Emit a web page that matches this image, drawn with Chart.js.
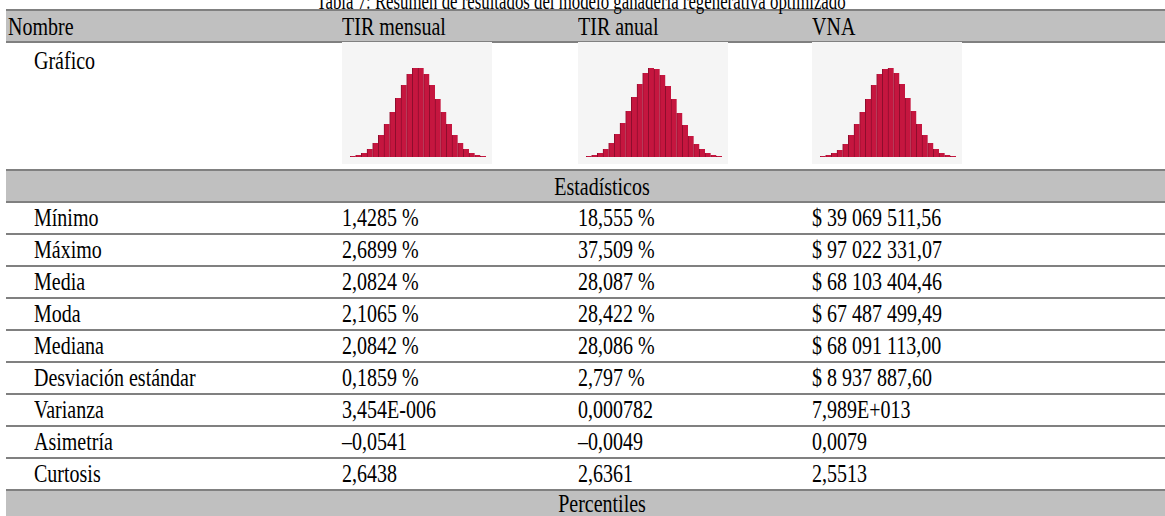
<!DOCTYPE html>
<html><head><meta charset="utf-8">
<script src="https://cdn.jsdelivr.net/npm/chart.js@4.4.0/dist/chart.umd.min.js"></script>
<style>
body{margin:0;width:1165px;height:516px;overflow:hidden;background:#fff;font-family:"Liberation Serif","Times New Roman",serif;font-size:25px;color:#000;position:relative}
.t{position:absolute;white-space:nowrap;line-height:32px;transform:scaleX(0.8);transform-origin:0 0}
.c{transform-origin:50% 0}
.band{position:absolute;left:6px;width:1200px;background:#c0c0c0}
.line{position:absolute;left:6px;width:1200px;height:2px;background:#808080}
.chart{position:absolute;background:#f5f5f5}
.chart canvas{display:block}
</style></head><body>
<script>
const title = 'Tabla 7: Resumen de resultados del modelo ganadería regenerativa optimizado';
const columns = ['TIR mensual', 'TIR anual', 'VNA'];
const statNames = ['Mínimo','Máximo','Media','Moda','Mediana','Desviación estándar','Varianza','Asimetría','Curtosis'];
const tirMensual = ['1,4285 %','2,6899 %','2,0824 %','2,1065 %','2,0842 %','0,1859 %','3,454E-006','–0,0541','2,6438'];
const tirAnual = ['18,555 %','37,509 %','28,087 %','28,422 %','28,086 %','2,797 %','0,000782','–0,0049','2,6361'];
const vna = ['$ 39 069 511,56','$ 97 022 331,07','$ 68 103 404,46','$ 67 487 499,49','$ 68 091 113,00','$ 8 937 887,60','7,989E+013','0,0079','2,5513'];
// histogram bin heights read from the small thumbnails (relative frequency, % of scale)
const binsTirMensual = [1,2,4,8,14,22,33,45,59,72,83,89,89,83,72,58,45,33,22,14,8,4,2,1];
const binsTirAnual   = [1,2,4,8,14,23,34,46,60,73,84,89,88,82,71,58,44,32,21,13,8,4,2,1];
const binsVna        = [1,2,4,7,13,22,33,45,58,72,83,88,89,84,73,59,46,33,22,14,8,4,2,1];

const colX = [342, 578, 812];
const labelX = 34;
function el(cls, css, txt){const d=document.createElement('div');d.className=cls;Object.assign(d.style,css);if(txt!==undefined)d.textContent=txt;document.body.appendChild(d);return d;}

// bands
el('band',{top:'10px',height:'32px'});
el('band',{top:'170px',height:'32px'});
el('band',{top:'490px',height:'30px'});
// lines
[9,41,169,201].forEach(y=>el('line',{top:y+'px'}));
for(let i=1;i<=9;i++) el('line',{top:(201+32*i)+'px'});

// title
el('t c',{top:'-15px',left:'0px',width:'1162px',textAlign:'center',fontSize:'24px',transform:'scaleX(0.7)'},title);
// header
el('t',{top:'11px',left:'8px'},'Nombre');
columns.forEach((c,i)=>el('t',{top:'11px',left:colX[i]+'px'},c));
el('t',{top:'45px',left:labelX+'px'},'Gráfico');
el('t c',{top:'171px',left:'0px',width:'1204px',textAlign:'center'},'Estadísticos');
el('t c',{top:'488px',left:'0px',width:'1204px',textAlign:'center'},'Percentiles');
const cols=[tirMensual,tirAnual,vna];
statNames.forEach((n,r)=>{
  const top=202+32*r;
  el('t',{top:top+'px',left:labelX+'px'},n);
  cols.forEach((arr,i)=>el('t',{top:top+'px',left:colX[i]+'px'},arr[r]));
});

// charts
const charts=[
  {left:342,data:binsTirMensual},
  {left:578,data:binsTirAnual},
  {left:812,data:binsVna}
];
charts.forEach(c=>{
  const box=el('chart',{left:c.left+'px',top:'42px',width:'150px',height:'122px'});
  const cv=document.createElement('canvas');cv.width=150;cv.height=122;box.appendChild(cv);
  new Chart(cv,{type:'bar',
    data:{labels:c.data.map((_,i)=>i),datasets:[{data:c.data,backgroundColor:'#c5163f',borderColor:'#8e0d2d',
      borderWidth:{left:1,right:0,top:0,bottom:0},borderSkipped:false,categoryPercentage:1,barPercentage:1}]},
    options:{responsive:false,animation:false,devicePixelRatio:1,
      layout:{padding:{left:8,right:6,top:15,bottom:7}},
      plugins:{legend:{display:false},tooltip:{enabled:false}},
      scales:{x:{display:false},y:{display:false,min:0,max:100}}}});
});
</script>
</body></html>
